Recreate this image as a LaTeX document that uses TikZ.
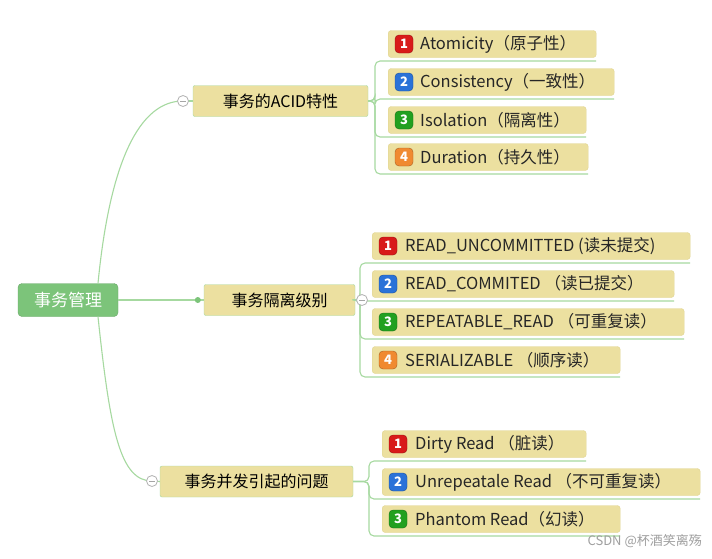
\documentclass[tikz,border=0pt]{standalone}
\usepackage{fontspec}
\setmainfont{Noto Sans CJK SC}
\begin{document}
\begin{tikzpicture}[x=1pt,y=-1pt,
  leaf/.style={draw=yellowB,fill=yellowF,rounded corners=3pt,minimum height=27pt,anchor=west,inner sep=0pt},
  mid/.style={draw=greenL,fill=yellowF,rounded corners=2pt,minimum height=31pt,inner sep=0pt,font=\fontsize{16}{16}\selectfont},
  lbl/.style={anchor=west,inner sep=0pt,font=\fontsize{16.5}{17}\selectfont,text=black!85},
  badge/.style={fill=#1,draw=#1!70!black,rounded corners=4pt,minimum size=18pt,inner sep=0pt,text=white,font=\fontsize{13}{13}\selectfont\bfseries},
  conn/.style={draw=greenL,line width=1.1pt},
  coll/.style={circle,draw=gray!60,fill=white,minimum size=11pt,inner sep=0pt,line width=0.8pt,path picture={\draw[gray!70,line width=0.8pt] ([xshift=-3pt]path picture bounding box.center)--([xshift=3pt]path picture bounding box.center);}}]
\definecolor{yellowF}{HTML}{ECE0A0}
\definecolor{yellowB}{HTML}{E0D490}
\definecolor{greenL}{HTML}{A6D9A0}
\definecolor{rootG}{HTML}{7CC47A}
\definecolor{bR}{HTML}{D81A1A}
\definecolor{bB}{HTML}{2A72D8}
\definecolor{bG}{HTML}{22A020}
\definecolor{bO}{HTML}{F08A30}
\useasboundingbox[fill=white] (0,0) rectangle (712,558);

\node[fill=rootG,draw=rootG!85!black,rounded corners=4pt,minimum width=100pt,minimum height=33pt,text=white,font=\fontsize{17}{17}\selectfont] (root) at (68,300) {事务管理};

\node[mid,minimum width=175pt] (acid) at (280.5,101) {事务的ACID特性};
\node[mid,minimum width=151pt] (iso) at (279.5,300) {事务隔离级别};
\node[mid,minimum width=193pt] (prob) at (256.5,481.5) {事务并发引起的问题};

\draw[conn] (root.north) ++(30,0) coordinate (r1) .. controls (110,160) and (140,101) .. (183,101) coordinate (c1);
\draw[conn] (root.south) ++(30,0) coordinate (r3) .. controls (110,430) and (120,481) .. (152,481) coordinate (c3);
\draw[conn] (root.east) -- (iso.west);
\fill[rootG] (iso.west) ++(-6,0) circle (3pt);

\draw[conn] (c1) -- (acid.west);
\draw[conn] (c3) -- (prob.west);

\foreach \n/\l/\r/\cy/\c/\num/\t in {a1/388/596/44/bR/1/Atomicity（原子性）,a2/388/614/82/bB/2/Consistency（一致性）,a3/388/586/120/bG/3/Isolation（隔离性）,a4/388/588/157/bO/4/Duration（持久性）}{
  \node[leaf,minimum width=\r-\l] (\n) at (\l,\cy) {};
  \node[badge=\c] (\n b) at (\l+16,\cy) {\num};
  \node[lbl] (\n t) at (\l+32,\cy) {\t};
  \draw[conn,rounded corners=5pt] (acid.east) -- (375,101) -- (375,\cy+17) -- (\r,\cy+17);
}
\node[coll] (acidc) at (183,101) {};

\foreach \n/\l/\r/\cy/\c/\num/\t in {b1/372/690/246/bR/1/READ\_UNCOMMITTED (读未提交),b2/372/674/284/bB/2/READ\_COMMITED （读已提交）,b3/372/684/322/bG/3/REPEATABLE\_READ （可重复读）,b4/372/620/360/bO/4/SERIALIZABLE （顺序读）}{
  \node[leaf,minimum width=\r-\l] (\n) at (\l,\cy) {};
  \node[badge=\c] (\n b) at (\l+16,\cy) {\num};
  \node[lbl] (\n t) at (\l+33,\cy) {\t};
  \draw[conn,rounded corners=5pt] (iso.east) -- (360,300) -- (360,\cy+17) -- (\r,\cy+17);
}
\node[coll] (isoc) at (362,300) {};

\foreach \n/\l/\r/\cy/\c/\num/\t in {p1/382/586/444/bR/1/Dirty Read （脏读）,p2/382/700/482/bB/2/Unrepeatale Read （不可重复读）,p3/382/620/519/bG/3/Phantom Read（幻读）}{
  \node[leaf,minimum width=\r-\l] (\n) at (\l,\cy) {};
  \node[badge=\c] (\n b) at (\l+16,\cy) {\num};
  \node[lbl] (\n t) at (\l+33,\cy) {\t};
  \draw[conn,rounded corners=5pt] (prob.east) -- (369,481.5) -- (369,\cy+17) -- (\r,\cy+17);
}
\node[coll] (probc) at (152,481) {};

\node[anchor=east,inner sep=0pt,text=gray!75,font=\fontsize{13}{13}\selectfont] (wm) at (702,541) {CSDN @杯酒笑离殇};
\end{tikzpicture}
\end{document}
